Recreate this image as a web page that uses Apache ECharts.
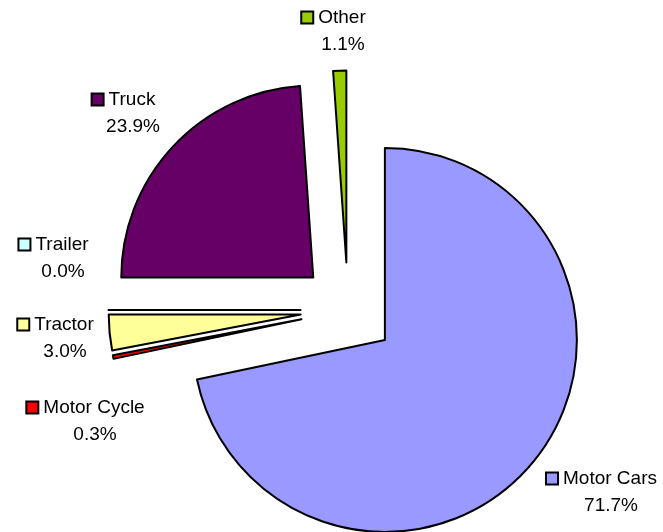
<!DOCTYPE html>
<html>
<head>
<meta charset="utf-8">
<script src="https://cdn.jsdelivr.net/npm/echarts@6/dist/echarts.min.js"></script>
<style>
  html, body { margin: 0; padding: 0; background: #ffffff; }
  #chart { width: 663px; height: 532px; }
</style>
</head>
<body>
<div id="chart"></div>
<script>
// Vehicle categories, clockwise from 12 o'clock
const categories = ['Motor Cars', 'Motor Cycle', 'Tractor', 'Trailer', 'Truck', 'Other'];
// Share of each category, in percent
const shares = [71.7, 0.3, 3.0, 0.0, 23.9, 1.1];
// Slice fill colours
const colors = ['#9999FF', '#FF0000', '#FFFF99', '#CCFFFF', '#660066', '#99CC00'];
// Centre of each two-line label block
const labelSpots = [[611, 492], [95, 421], [65, 338], [63, 258], [133, 113], [343, 31]];

const FONT = 'Liberation Sans, Arial, sans-serif';

const chart = echarts.init(document.getElementById('chart'), null, { renderer: 'canvas' });

const data = categories.map((name, i) => ({
  name: name,
  value: shares[i],
  selected: true,
  itemStyle: { color: colors[i] }
}));

// Data labels: legend key, category name and share, placed beside each slice
const labels = categories.map((name, i) => ({
  type: 'text',
  x: labelSpots[i][0],
  y: labelSpots[i][1],
  silent: true,
  style: {
    text: '{box|}{gap|}{name|' + name + '}{pad|}\n{val|' + shares[i].toFixed(1) + '%}',
    align: 'center',
    verticalAlign: 'middle',
    fontFamily: FONT,
    fontSize: 19,
    lineHeight: 27,
    fill: '#000000',
    rich: {
      box: { width: 10, height: 10, backgroundColor: colors[i], borderColor: '#000000', borderWidth: 2 },
      gap: { width: 6 },
      pad: { width: 18 },
      name: { fontFamily: FONT, fontSize: 19, lineHeight: 27, fill: '#000000' },
      val: { fontFamily: FONT, fontSize: 19, lineHeight: 27, fill: '#000000' }
    }
  }
}));

chart.setOption({
  animation: false,
  backgroundColor: '#ffffff',
  graphic: { elements: labels },
  series: [{
    type: 'pie',
    center: [348, 310],
    radius: 192,
    startAngle: 90,
    clockwise: true,
    selectedMode: 'multiple',
    selectedOffset: 47.5,
    avoidLabelOverlap: false,
    silent: true,
    emphasis: { disabled: true, scale: false },
    itemStyle: { borderColor: '#000000', borderWidth: 2 },
    label: { show: false },
    labelLine: { show: false },
    data: data
  }]
});
</script>
</body>
</html>
